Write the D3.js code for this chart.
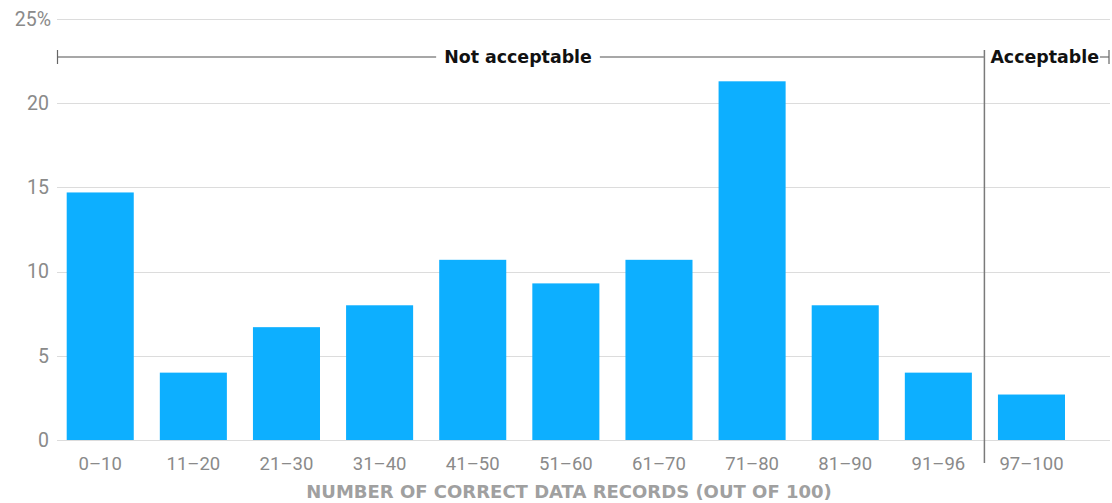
<!DOCTYPE html>
<html>
<head>
<meta charset="utf-8">
<script src="https://cdn.jsdelivr.net/npm/d3@7"></script>
<style>
  html, body { margin: 0; padding: 0; background: #fff; }
  svg { display: block; font-family: "Roboto", "Noto Sans", sans-serif; }
  .bold { font-family: "DejaVu Sans", "Open Sans", sans-serif; font-weight: 700; }
</style>
</head>
<body>
<svg id="chart" width="1112" height="503"></svg>
<script>
// Share of respondents by number of correct data records (out of 100)
const categories = ["0–10", "11–20", "21–30", "31–40", "41–50", "51–60", "61–70", "71–80", "81–90", "91–96", "97–100"];
const shares = [14.7, 4.0, 6.7, 8.0, 10.7, 9.3, 10.7, 21.3, 8.0, 4.0, 2.7];
const yTicks = [0, 5, 10, 15, 20, 25];
const yTickLabels = ["0", "5", "10", "15", "20", "25%"];
const groups = [
  { label: "Not acceptable", from: "0–10", to: "91–96" },
  { label: "Acceptable", from: "97–100", to: "97–100" }
];
const axisTitle = "NUMBER OF CORRECT DATA RECORDS (OUT OF 100)";

const svg = d3.select("#chart");
const gridLeft = 57, gridRight = 1110;

const x = d3.scaleBand()
  .domain(categories)
  .range([66.7, 1065])
  .paddingInner(0.28)
  .paddingOuter(0);

const y = d3.scaleLinear()
  .domain([0, 25])
  .range([440, 19]);

// horizontal gridlines
svg.append("g")
  .selectAll("line")
  .data(yTicks)
  .join("line")
  .attr("x1", gridLeft)
  .attr("x2", gridRight)
  .attr("y1", d => Math.round(y(d)) + 0.5)
  .attr("y2", d => Math.round(y(d)) + 0.5)
  .attr("stroke", "#dcdcdc")
  .attr("stroke-width", 1.2);

// y tick labels
svg.append("g")
  .selectAll("text")
  .data(yTicks)
  .join("text")
  .attr("x", (d, i) => yTickLabels[i].includes("%") ? 51 : 49)
  .attr("y", d => y(d))
  .attr("dy", "0.35em")
  .attr("text-anchor", "end")
  .attr("fill", "#8a8a8a")
  .attr("font-size", 19.5)
  .text((d, i) => yTickLabels[i]);

// bars
svg.append("g")
  .selectAll("rect")
  .data(categories)
  .join("rect")
  .attr("x", d => x(d))
  .attr("width", x.bandwidth())
  .attr("y", (d, i) => y(shares[i]))
  .attr("height", (d, i) => y(0) - y(shares[i]))
  .attr("fill", "#0dafff");

// x category labels
const xAxis = d3.axisBottom(x).tickSize(0).tickPadding(0);
const xg = svg.append("g")
  .attr("transform", `translate(0, ${y(0)})`)
  .call(xAxis);
xg.select(".domain").remove();
xg.selectAll("text")
  .attr("y", 24)
  .attr("dy", "0.35em")
  .attr("fill", "#8a8a8a")
  .attr("font-size", 18.5)
  .attr("font-family", "Roboto, sans-serif");

// divider between the two groups
const step = x.step();
const divX = x("97–100") - (step - x.bandwidth()) / 2 - 0.5;
svg.append("line")
  .attr("x1", divX).attr("x2", divX)
  .attr("y1", 50).attr("y2", 463)
  .attr("stroke", "#7a7a7a")
  .attr("stroke-width", 1.5);

// group brackets
const bracketY = 57;
const lineColor = "#8a8a8a";
const bx = svg.append("g");
const nx0 = gridLeft, nx1 = divX;
const notLabel = bx.append("text")
  .attr("class", "bold")
  .attr("x", 518)
  .attr("y", bracketY)
  .attr("dy", "0.35em")
  .attr("text-anchor", "middle")
  .attr("font-size", 17.4)
  .attr("fill", "#111")
  .text(groups[0].label);
const nb = notLabel.node().getBBox();
bx.append("line").attr("x1", nx0).attr("x2", nb.x - 8).attr("y1", bracketY).attr("y2", bracketY)
  .attr("stroke", lineColor).attr("stroke-width", 1.5);
bx.append("line").attr("x1", nb.x + nb.width + 8).attr("x2", nx1).attr("y1", bracketY).attr("y2", bracketY)
  .attr("stroke", lineColor).attr("stroke-width", 1.5);
bx.append("line").attr("x1", nx0 + 0.5).attr("x2", nx0 + 0.5).attr("y1", 50).attr("y2", 64)
  .attr("stroke", "#666").attr("stroke-width", 1.2);

// right bracket
const accLabel = bx.append("text")
  .attr("class", "bold")
  .attr("x", divX + 6)
  .attr("y", bracketY)
  .attr("dy", "0.35em")
  .attr("text-anchor", "start")
  .attr("font-size", 17.4)
  .attr("fill", "#111")
  .text(groups[1].label);
const ab = accLabel.node().getBBox();
bx.append("line").attr("x1", ab.x + ab.width + 1).attr("x2", 1109).attr("y1", bracketY).attr("y2", bracketY)
  .attr("stroke", lineColor).attr("stroke-width", 1.5);
bx.append("line").attr("x1", 1109).attr("x2", 1109).attr("y1", 50).attr("y2", 64)
  .attr("stroke", "#666").attr("stroke-width", 1.2);

// axis title
svg.append("text")
  .attr("class", "bold")
  .attr("x", 569)
  .attr("y", 498)
  .attr("text-anchor", "middle")
  .attr("font-size", 18)
  .attr("fill", "#a0a0a0")
  .text(axisTitle);
</script>
</body>
</html>
